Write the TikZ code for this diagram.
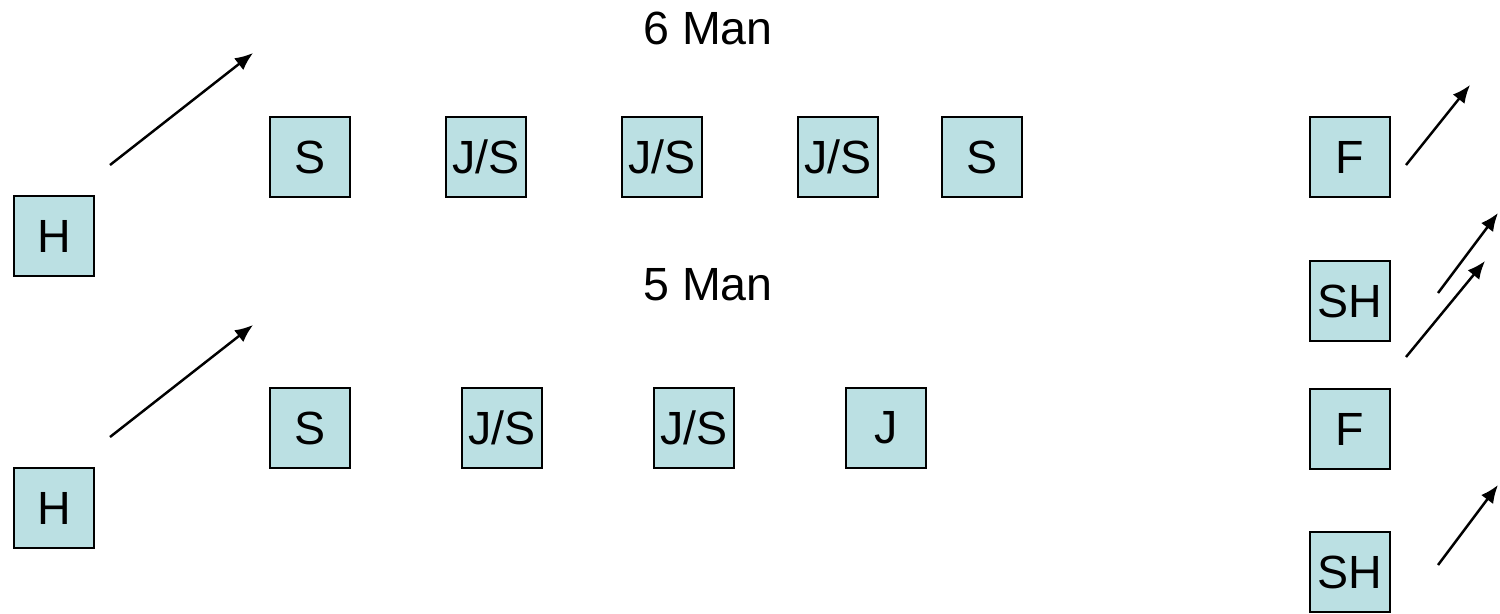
\documentclass[tikz,border=0pt]{standalone}
\usepackage{fontspec}
\setmainfont{Liberation Sans}
\usetikzlibrary{arrows.meta,positioning}
\definecolor{boxblue}{RGB}{187,224,227}

\begin{document}
\begin{tikzpicture}[
    x=0.02cm, y=-0.02cm,
    every node/.style={
        font=\fontsize{26.5}{30}\selectfont,
        inner sep=0pt
    },
    player/.style={
        draw, fill=boxblue,
        line width=1.5pt,
        minimum size=1.6cm,
        align=center
    },
    lbl/.style={anchor=west},
    move/.style={-{Latex[length=0.36cm,width=0.3cm]}, line width=1.4pt}
]
\useasboundingbox (0,0) rectangle (1500,613);

% 6 man
\node[lbl] (six) at (643,28) {6 Man};
\node[player] (h1) at (54,236) {H};
\node[player] (s1) at (310,157) {S};
\node[player] (js1) at (486,157) {J/S};
\node[player] (js2) at (662,157) {J/S};
\node[player] (js3) at (838,157) {J/S};
\node[player] (s2) at (982,157) {S};

% 5 man
\node[lbl] (five) at (643,285) {5 Man};
\node[player] (h2) at (54,508) {H};
\node[player] (s3) at (310,428) {S};
\node[player] (js4) at (502,428) {J/S};
\node[player] (js5) at (694,428) {J/S};
\node[player] (j1) at (886,428) {J};

% right column
\node[player] (f1) at (1350,157) {F};
\node[player] (sh1) at (1350,301) {SH};
\node[player] (f2) at (1350,429) {F};
\node[player] (sh2) at (1350,572) {SH};

\coordinate (h1a) at (110,165);  \coordinate (h1b) at (253,53);
\coordinate (h2a) at (110,437);  \coordinate (h2b) at (253,325);
\coordinate (f1a) at (1406,165); \coordinate (f1b) at (1470,85);
\coordinate (sh1a) at (1438,293); \coordinate (sh1b) at (1498,213);
\coordinate (f2a) at (1406,357); \coordinate (f2b) at (1485,261);
\coordinate (sh2a) at (1438,565); \coordinate (sh2b) at (1498,485);

\draw[move] (h1a) -- (h1b);
\draw[move] (h2a) -- (h2b);
\draw[move] (f1a) -- (f1b);
\draw[move] (sh1a) -- (sh1b);
\draw[move] (f2a) -- (f2b);
\draw[move] (sh2a) -- (sh2b);
\end{tikzpicture}
\end{document}
